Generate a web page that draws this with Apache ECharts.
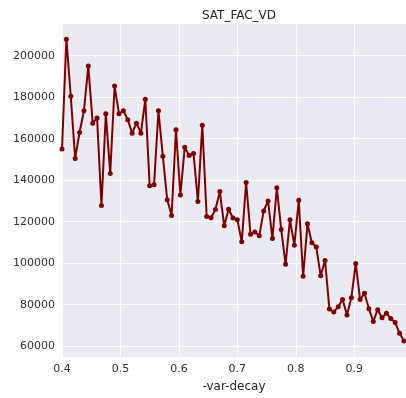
<!DOCTYPE html>
<html>
<head>
<meta charset="utf-8">
<script src="https://cdn.jsdelivr.net/npm/echarts@6/dist/echarts.min.js"></script>
<style>
  html, body { margin: 0; padding: 0; background: #fff; }
  #chart { width: 406px; height: 398px; }
</style>
</head>
<body>
<div id="chart"></div>
<script>
var decay = [0.4, 0.4075, 0.415, 0.4225, 0.43, 0.4375, 0.445, 0.4525, 0.46, 0.4675,
    0.475, 0.4825, 0.49, 0.4975, 0.505, 0.5125, 0.52, 0.5275, 0.535, 0.5425,
    0.55, 0.5575, 0.565, 0.5725, 0.58, 0.5875, 0.595, 0.6025, 0.61, 0.6175,
    0.625, 0.6325, 0.64, 0.6475, 0.655, 0.6625, 0.67, 0.6775, 0.685, 0.6925,
    0.7, 0.7075, 0.715, 0.7225, 0.73, 0.7375, 0.745, 0.7525, 0.76, 0.7675,
    0.775, 0.7825, 0.79, 0.7975, 0.805, 0.8125, 0.82, 0.8275, 0.835, 0.8425,
    0.85, 0.8575, 0.865, 0.8725, 0.88, 0.8875, 0.895, 0.9025, 0.91, 0.9175,
    0.925, 0.9325, 0.94, 0.9475, 0.955, 0.9625, 0.97, 0.9775, 0.985];

var satFac = [155000, 208000, 180500, 150500, 163000, 173500, 195000, 167500, 170000, 127800,
    172000, 143300, 185400, 172000, 173500, 169200, 162700, 167500, 162700, 179000,
    137300, 137800, 173500, 151600, 130600, 123000, 164300, 132900, 155900, 151900,
    152900, 129700, 166500, 122500, 121900, 125900, 134600, 118000, 126000, 121800,
    121000, 110300, 138900, 114000, 115100, 113200, 125200, 130000, 111900, 136400,
    116300, 99500, 121000, 108700, 130300, 93700, 119000, 109900, 107800, 94000,
    101300, 77900, 76500, 79000, 82500, 75100, 83300, 99900, 82500, 85500,
    78100, 71900, 77600, 73700, 75900, 73300, 71400, 66200, 62500];

var xTicks = [0.4, 0.5, 0.6, 0.7, 0.8, 0.9];
var yTicks = [60000, 80000, 100000, 120000, 140000, 160000, 180000, 200000];

var chart = echarts.init(document.getElementById('chart'));

var points = decay.map(function (x, i) { return [x, satFac[i]]; });

var option = {
    animation: false,
    backgroundColor: '#ffffff',
    title: {
        text: 'SAT_FAC_VD',
        left: 234,
        top: 5,
        textAlign: 'center',
        textStyle: { fontFamily: 'DejaVu Sans', fontSize: 12, fontWeight: 'normal', color: '#262626' }
    },
    grid: {
        left: 62, right: 0, top: 24, bottom: 38,
        show: true, backgroundColor: '#eaeaf2', borderWidth: 0
    },
    xAxis: {
        type: 'value',
        min: 0.4,
        max: 0.9885,
        name: '-var-decay',
        nameLocation: 'middle',
        nameGap: 24,
        nameTextStyle: { fontFamily: 'DejaVu Sans', fontSize: 12, color: '#262626' },
        axisLine: { show: false },
        axisTick: { show: false, customValues: xTicks },
        axisLabel: {
            customValues: xTicks,
            margin: 7,
            fontFamily: 'DejaVu Sans', fontSize: 11, color: '#333333',
            formatter: function (v) { return v.toFixed(1); }
        },
        splitLine: { show: true, lineStyle: { color: '#ffffff', width: 1 } }
    },
    yAxis: {
        type: 'value',
        min: 54800,
        max: 215300,
        axisLine: { show: false },
        axisTick: { show: false, customValues: yTicks },
        axisLabel: {
            customValues: yTicks,
            margin: 7,
            fontFamily: 'DejaVu Sans', fontSize: 11, color: '#333333',
            formatter: function (v) { return String(v); }
        },
        splitLine: { show: true, lineStyle: { color: '#ffffff', width: 1 } }
    },
    series: [{
        type: 'line',
        data: points,
        symbol: 'circle',
        symbolSize: 5,
        clip: false,
        lineStyle: { color: '#800000', width: 2 },
        itemStyle: { color: '#800000' }
    }]
};

chart.setOption(option);
</script>
</body>
</html>
